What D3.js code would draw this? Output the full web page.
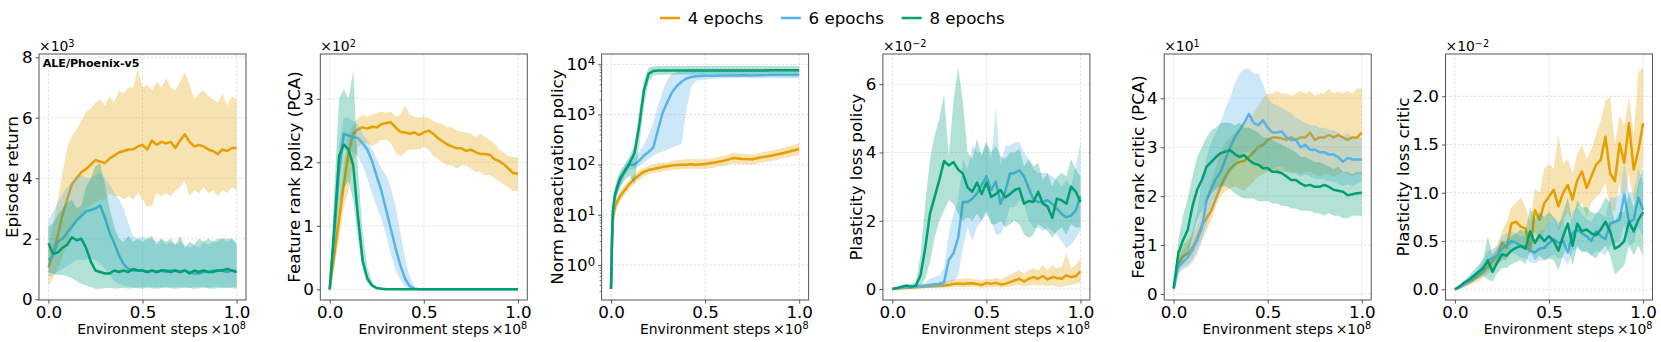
<!DOCTYPE html>
<html>
<head>
<meta charset="utf-8">
<script src="https://cdn.jsdelivr.net/npm/d3@7"></script>
<style>
  body { margin: 0; background: #fff; }
  text { font-family: "DejaVu Sans", sans-serif; }
</style>
</head>
<body>
<svg id="chart" width="1661" height="342"></svg>
<script>
// ---- data (in the units shown on each axis) ----
const seriesNames = ["4 epochs", "6 epochs", "8 epochs"];
const seriesColors = ["#E69F00", "#56B4E9", "#009E73"];
const xTickValues = [0, 0.5, 1];

const stepsGrid = [0,0.025,0.05,0.075,0.1,0.125,0.15,0.175,0.2,0.225,0.25,0.275,0.3,0.325,0.35,0.375,0.4,0.425,0.45,0.475,0.5,0.525,0.55,0.575,0.6,0.625,0.65,0.675,0.7,0.725,0.75,0.775,0.8,0.825,0.85,0.875,0.9,0.925,0.95,0.975,1];
const stepsLog = [0,0.005,0.01,0.02,0.035,0.05,0.075,0.1,0.125,0.15,0.175,0.2,0.225,0.25,0.275,0.3,0.325,0.35,0.375,0.4,0.425,0.45,0.5,0.55,0.6,0.65,0.7,0.75,0.8,0.85,0.9,0.95,1];

// Episode return (x10^3)
const ret4Mean = [1.05,1.5,2.1,2.8,3.3,3.8,4.0,4.2,4.3,4.45,4.6,4.55,4.5,4.65,4.75,4.85,4.9,4.95,4.95,5.05,5.1,4.95,5.25,5.1,5.2,5.15,5.2,5.0,5.25,5.45,5.2,5.05,5.1,5.05,4.95,4.9,4.8,4.95,4.9,5.0,5.0];
const ret4Hi = [1.6,2.5,3.3,4.2,5.0,5.4,5.6,5.9,6.2,6.3,6.5,6.6,6.4,6.7,6.5,6.9,6.8,7.0,7.0,7.6,7.0,7.1,6.9,7.2,7.0,7.3,7.0,6.9,7.2,7.5,7.1,6.6,6.8,6.9,6.7,6.6,6.5,6.8,6.4,6.7,6.6];
const ret4Lo = [0.45,0.7,1.0,1.4,1.9,2.3,2.6,2.8,3.0,3.1,3.2,3.3,3.3,3.5,3.4,3.4,3.3,3.4,3.3,3.5,3.3,3.05,3.1,3.5,3.4,3.5,3.4,3.6,3.7,3.9,3.4,3.6,3.5,3.7,3.5,3.6,3.4,3.6,3.5,3.7,3.6];
const ret6Mean = [1.3,1.45,1.9,2.0,2.2,2.4,2.6,2.75,2.9,2.95,3.0,3.1,2.7,2.2,1.85,1.45,1.15,1.0,0.95,0.95,0.95,0.9,0.95,0.9,0.95,0.9,0.95,0.95,0.9,0.95,0.9,0.85,0.85,0.9,0.9,0.95,0.95,0.95,0.9,0.95,0.9];
const ret6Hi = [2.6,2.9,3.2,3.5,3.7,3.9,4.1,4.1,4.0,4.0,4.1,4.2,4.0,3.8,3.5,3.3,3.0,2.5,2.1,2.0,2.1,2.0,2.0,1.9,2.0,1.8,1.9,1.8,1.9,1.8,1.7,1.8,1.7,1.9,1.8,1.9,1.9,2.0,1.9,2.0,1.9];
const ret6Lo = [0.75,0.8,0.9,1.0,1.1,1.2,1.3,1.3,1.3,1.35,1.3,1.2,1.0,0.8,0.6,0.5,0.45,0.42,0.4,0.38,0.4,0.42,0.4,0.38,0.4,0.41,0.39,0.4,0.42,0.4,0.38,0.4,0.41,0.4,0.39,0.4,0.42,0.4,0.38,0.4,0.4];
const ret8Mean = [1.85,1.5,1.55,1.7,1.8,2.05,1.95,2.0,1.7,1.25,0.95,0.9,0.85,0.85,0.95,0.9,0.95,0.9,1.0,0.95,0.95,0.9,0.95,0.9,0.95,0.95,0.9,0.95,0.9,0.95,0.85,0.95,0.9,0.95,0.9,0.9,0.95,0.95,1.0,0.95,0.9];
const ret8Hi = [2.4,2.5,2.8,3.0,3.2,3.3,3.0,3.1,3.7,4.0,4.4,4.5,3.8,3.0,2.4,2.0,1.9,2.1,1.9,2.0,1.9,2.0,2.1,1.8,2.0,1.9,2.0,1.8,2.1,1.7,1.9,1.8,2.0,1.9,2.0,1.9,2.0,2.0,2.0,2.0,1.8];
const ret8Lo = [0.9,0.85,0.8,0.8,0.75,0.7,0.6,0.5,0.45,0.4,0.35,0.35,0.36,0.38,0.35,0.36,0.38,0.35,0.37,0.36,0.35,0.38,0.36,0.35,0.37,0.38,0.36,0.35,0.36,0.38,0.37,0.35,0.36,0.38,0.36,0.35,0.37,0.36,0.38,0.36,0.35];

// Feature rank policy (PCA) (x10^2)
const rank4Mean = [0,0.55,1.1,1.65,2.15,2.45,2.52,2.55,2.53,2.56,2.55,2.6,2.62,2.63,2.55,2.48,2.47,2.45,2.47,2.43,2.47,2.5,2.45,2.38,2.33,2.28,2.25,2.22,2.22,2.18,2.2,2.16,2.13,2.13,2.12,2.05,2.02,1.97,1.9,1.83,1.82];
const rank4Hi = [0,0.7,1.4,2.0,2.45,2.6,2.7,2.75,2.72,2.75,2.78,2.8,2.78,2.8,2.72,2.75,2.9,2.75,2.72,2.7,2.72,2.7,2.65,2.62,2.6,2.55,2.55,2.5,2.48,2.47,2.45,2.4,2.45,2.4,2.35,2.3,2.2,2.15,2.1,2.08,2.08];
const rank4Lo = [0,0.35,0.8,1.3,1.55,2.0,2.25,2.3,2.3,2.25,2.3,2.35,2.35,2.3,2.15,2.1,2.15,2.2,2.2,2.2,2.25,2.2,2.1,2.05,2.0,1.95,1.95,1.9,1.95,1.95,1.9,1.85,1.85,1.8,1.8,1.75,1.7,1.65,1.6,1.55,1.55];
const rank6Mean = [0,0.9,1.9,2.45,2.42,2.4,2.38,2.3,2.2,2.02,1.78,1.55,1.25,0.95,0.65,0.38,0.17,0.05,0.01,0,0,0,0,0,0,0,0,0,0,0,0,0,0,0,0,0,0,0,0,0,0];
const rank6Hi = [0,1.1,2.3,2.7,2.7,2.65,2.6,2.45,2.35,2.2,2.05,1.9,1.8,1.6,1.3,0.9,0.5,0.2,0.05,0.01,0,0,0,0,0,0,0,0,0,0,0,0,0,0,0,0,0,0,0,0,0];
const rank6Lo = [0,0.7,1.6,2.2,2.2,2.15,2.1,1.95,1.75,1.5,1.3,1.1,0.85,0.55,0.3,0.15,0.05,0.01,0,0,0,0,0,0,0,0,0,0,0,0,0,0,0,0,0,0,0,0,0,0,0];
const rank8Mean = [0,1.0,2.1,2.28,2.2,1.95,1.15,0.45,0.17,0.06,0.02,0.01,0,0,0,0,0,0,0,0,0,0,0,0,0,0,0,0,0,0,0,0,0,0,0,0,0,0,0,0,0];
const rank8Hi = [0,1.6,3.0,3.15,3.0,3.45,1.9,0.9,0.35,0.12,0.04,0.01,0,0,0,0,0,0,0,0,0,0,0,0,0,0,0,0,0,0,0,0,0,0,0,0,0,0,0,0,0];
const rank8Lo = [0,0.5,1.3,1.6,1.7,1.4,0.8,0.3,0.1,0.03,0.01,0,0,0,0,0,0,0,0,0,0,0,0,0,0,0,0,0,0,0,0,0,0,0,0,0,0,0,0,0,0];

// Norm preactivation policy (log)
const norm4Mean = [0.33,2,8,14,19,24,32,42,52,62,72,78,82,86,90,93,96,98,100,100,102,100,103,110,120,135,130,128,140,150,165,183,205];
const norm4Hi = [0.4,3,10,17,23,30,40,52,65,78,88,95,100,105,110,112,118,122,125,128,130,128,128,135,150,170,165,160,175,190,210,235,265];
const norm4Lo = [0.28,1.5,6,10,14,19,25,33,42,50,58,64,68,70,73,76,78,80,82,82,84,82,82,88,95,105,102,100,110,118,128,143,155];
const norm6Mean = [0.33,3,10,22,35,50,80,100,100,120,150,180,220,500,1100,1800,2800,3700,4500,5200,5600,5800,5900,5950,6000,6000,6050,6000,6050,6100,6100,6100,6100];
const norm6Hi = [0.4,4,14,30,50,70,100,130,140,180,250,400,700,1500,3000,5000,6500,7000,7200,7300,7300,7300,7300,7300,7300,7400,7400,7400,7400,7500,7500,7500,7500];
const norm6Lo = [0.28,2,7,15,25,35,60,80,80,95,110,130,150,170,180,200,220,240,260,1200,3500,4700,5000,5200,5300,5300,5400,5300,5300,5400,5300,5300,5300];
const norm8Mean = [0.33,3,12,25,38,55,75,110,170,600,3000,6500,7400,7500,7500,7500,7500,7500,7500,7500,7500,7500,7500,7500,7500,7500,7550,7550,7550,7600,7600,7600,7600];
const norm8Hi = [0.4,4,16,35,55,75,105,150,250,1200,5000,8500,9200,9300,9300,9300,9300,9300,9300,9300,9300,9300,9300,9300,9300,9300,9300,9300,9300,9300,9300,9300,9200];
const norm8Lo = [0.28,2,9,18,28,38,50,60,40,250,1500,4500,6000,6200,6200,6300,6200,6300,6300,6300,6300,6300,6300,6300,6300,6300,6300,6300,6300,6300,6300,6300,6300];

// Plasticity loss policy (x10^-2)
const lossPol4Mean = [0,0.01,0.02,0.03,0.04,0.05,0.06,0.07,0.08,0.09,0.1,0.1,0.12,0.15,0.16,0.15,0.16,0.17,0.15,0.12,0.18,0.15,0.18,0.14,0.15,0.2,0.25,0.3,0.22,0.3,0.35,0.3,0.38,0.28,0.35,0.32,0.3,0.4,0.35,0.38,0.52];
const lossPol4Hi = [0,0.02,0.04,0.05,0.07,0.08,0.1,0.12,0.15,0.17,0.2,0.22,0.25,0.28,0.3,0.3,0.32,0.3,0.28,0.25,0.3,0.28,0.32,0.28,0.35,0.4,0.5,0.55,0.45,0.55,0.6,0.55,0.7,0.55,0.7,0.6,0.65,1.05,0.6,0.7,0.9];
const lossPol4Lo = [0,0.005,0.01,0.01,0.015,0.02,0.02,0.025,0.03,0.03,0.035,0.035,0.04,0.05,0.06,0.05,0.05,0.06,0.05,0.03,0.06,0.05,0.07,0.04,0.05,0.07,0.1,0.12,0.08,0.1,0.12,0.1,0.12,0.08,0.1,0.08,0.05,0.1,0.12,0.15,0.2];
const lossPol6Mean = [0,0.02,0.04,0.05,0.06,0.07,0.08,0.1,0.12,0.14,0.15,0.2,0.85,1.05,1.5,2.55,2.55,2.65,2.8,3.05,3.3,2.9,3.15,2.5,2.85,3.38,3.4,3.48,3.3,2.95,2.62,2.55,2.55,2.6,2.5,2.35,2.2,2.1,2.15,2.3,2.72];
const lossPol6Hi = [0,0.04,0.08,0.1,0.12,0.14,0.15,0.2,0.3,0.35,0.4,0.6,1.6,2.2,2.6,3.8,3.5,4.2,4.0,4.0,4.3,3.8,5.3,3.6,4.2,4.2,4.3,4.3,4.0,3.8,3.5,3.4,3.4,3.4,3.3,3.2,3.0,3.2,3.0,3.6,4.3];
const lossPol6Lo = [0,0.01,0.01,0.01,0.02,0.02,0.02,0.03,0.03,0.04,0.04,0.05,0.2,0.2,0.4,1.2,1.8,1.4,1.8,2.0,2.2,2.0,1.6,1.6,1.9,2.4,2.4,2.6,2.5,2.0,1.8,1.8,1.7,1.8,1.7,1.6,1.4,1.2,1.3,1.5,1.7];
const lossPol8Mean = [0,0.03,0.07,0.1,0.07,0.1,0.4,1.2,2.2,2.7,3.2,3.75,3.62,3.72,3.5,3.38,2.98,2.85,3.12,2.78,3.12,2.7,2.78,2.9,2.68,2.78,2.9,2.95,2.5,2.58,2.55,2.85,2.5,2.42,2.08,2.65,2.6,2.5,3.0,2.85,2.55];
const lossPol8Hi = [0,0.05,0.1,0.15,0.15,0.2,1.0,2.5,3.8,4.5,5.0,5.7,3.9,5.5,6.5,5.5,4.0,3.8,4.4,3.9,4.3,4.0,4.2,3.9,3.8,4.0,4.0,4.1,3.6,3.8,3.6,3.7,3.2,3.4,3.0,3.3,3.4,3.3,3.8,3.5,3.3];
const lossPol8Lo = [0,0.01,0.03,0.05,0.03,0.04,0.1,0.3,0.8,1.5,2.0,2.3,2.6,2.5,2.2,2.0,2.1,2.0,2.2,2.0,2.3,1.9,1.9,2.0,1.8,1.9,2.0,1.9,1.6,1.5,1.6,1.9,1.8,1.7,1.5,1.7,1.8,1.6,1.9,1.8,1.8];

// Feature rank critic (PCA) (x10^1)
const rankCr4Mean = [0.1,0.6,0.78,0.82,0.95,1.15,1.4,1.55,1.7,1.95,2.2,2.4,2.55,2.65,2.7,2.72,2.8,2.9,3.0,3.05,3.15,3.2,3.2,3.18,3.15,3.2,3.15,3.2,3.2,3.3,3.15,3.2,3.2,3.25,3.2,3.25,3.2,3.15,3.2,3.2,3.3];
const rankCr4Hi = [0.15,0.8,1.0,1.1,1.2,1.4,1.7,2.0,2.3,2.6,2.9,3.1,3.2,3.3,3.4,3.5,3.6,3.7,3.85,4.0,4.1,4.1,4.15,4.1,4.1,4.05,4.1,4.15,4.1,4.15,4.05,4.1,4.1,4.2,4.1,4.15,4.1,4.15,4.1,4.2,4.2];
const rankCr4Lo = [0.05,0.45,0.55,0.6,0.7,0.9,1.1,1.3,1.5,1.8,2.0,2.1,2.15,2.2,2.15,2.1,2.2,2.3,2.4,2.45,2.5,2.5,2.45,2.5,2.5,2.45,2.5,2.45,2.5,2.5,2.45,2.4,2.45,2.45,2.4,2.45,2.5,2.45,2.4,2.45,2.45];
const rankCr6Mean = [0.1,0.55,0.65,0.75,0.9,1.1,1.35,1.9,2.15,2.35,2.5,2.75,3.0,3.2,3.35,3.5,3.68,3.5,3.45,3.55,3.4,3.3,3.3,3.32,3.2,3.15,3.15,3.0,3.05,2.95,2.95,2.9,2.9,2.85,2.85,2.8,2.7,2.78,2.75,2.75,2.75];
const rankCr6Hi = [0.15,0.7,0.9,1.0,1.3,1.7,2.3,2.8,3.1,3.3,3.5,3.8,4.0,4.3,4.5,4.6,4.6,4.5,4.5,4.3,4.0,3.9,3.85,3.8,3.75,3.7,3.6,3.55,3.5,3.45,3.45,3.4,3.4,3.35,3.35,3.3,3.2,3.3,3.2,3.2,3.2];
const rankCr6Lo = [0.05,0.4,0.5,0.55,0.65,0.8,1.1,1.4,1.7,1.9,2.1,2.3,2.5,2.6,2.8,2.9,2.9,2.7,2.6,2.6,2.6,2.55,2.6,2.6,2.5,2.5,2.45,2.4,2.45,2.4,2.35,2.35,2.35,2.3,2.3,2.25,2.2,2.25,2.2,2.25,2.3];
const rankCr8Mean = [0.12,0.83,1.1,1.31,1.79,2.13,2.33,2.6,2.7,2.8,2.88,2.91,2.94,2.86,2.8,2.84,2.74,2.67,2.64,2.57,2.57,2.5,2.5,2.47,2.4,2.33,2.33,2.26,2.21,2.23,2.19,2.19,2.23,2.19,2.13,2.11,2.09,2.02,2.04,2.06,2.07];
const rankCr8Hi = [0.15,1.1,1.6,1.95,2.4,2.8,3.0,3.2,3.35,3.4,3.5,3.5,3.5,3.45,3.5,3.4,3.4,3.35,3.3,3.2,3.2,3.15,3.1,3.05,3.0,2.95,2.9,2.8,2.8,2.75,2.7,2.7,2.65,2.6,2.55,2.6,2.5,2.5,2.45,2.5,2.5];
const rankCr8Lo = [0.08,0.55,0.7,0.8,1.15,1.5,1.7,1.9,2.05,2.15,2.2,2.2,2.15,2.05,2.0,1.95,1.95,1.95,1.9,1.9,1.9,1.85,1.85,1.8,1.8,1.75,1.75,1.7,1.7,1.7,1.65,1.65,1.6,1.65,1.6,1.6,1.55,1.55,1.6,1.6,1.6];

// Plasticity loss critic (x10^-2)
const lossCr4Mean = [0,0.02,0.045,0.07,0.1,0.14,0.18,0.23,0.29,0.34,0.48,0.43,0.68,0.7,0.65,0.63,0.41,0.82,0.72,0.89,0.96,1.03,0.86,1.0,1.08,0.93,1.13,1.22,1.05,1.17,1.29,1.34,1.58,1.2,1.12,1.51,1.31,1.72,1.24,1.44,1.72];
const lossCr4Hi = [0,0.03,0.06,0.1,0.14,0.2,0.25,0.3,0.38,0.45,0.6,0.7,0.85,0.9,0.95,0.85,0.7,1.05,1.0,1.25,1.3,1.25,1.6,1.3,1.35,1.2,1.4,1.5,1.35,1.45,1.6,1.75,1.95,2.0,1.5,1.8,1.7,2.0,1.6,2.25,2.3];
const lossCr4Lo = [0,0.01,0.02,0.04,0.06,0.08,0.12,0.16,0.2,0.25,0.3,0.3,0.45,0.5,0.45,0.42,0.35,0.6,0.5,0.6,0.7,0.75,0.6,0.7,0.8,0.7,0.85,0.9,0.75,0.9,0.95,1.0,1.1,0.85,0.8,1.1,0.9,1.2,0.9,1.0,1.3];
const lossCr6Mean = [0,0.02,0.05,0.08,0.12,0.16,0.2,0.3,0.32,0.35,0.42,0.45,0.5,0.48,0.45,0.44,0.4,0.38,0.42,0.43,0.48,0.52,0.48,0.5,0.38,0.58,0.62,0.58,0.55,0.5,0.6,0.55,0.52,0.68,0.7,0.72,0.98,0.7,0.72,0.95,0.82];
const lossCr6Hi = [0,0.03,0.07,0.1,0.15,0.22,0.3,0.4,0.42,0.45,0.55,0.58,0.6,0.58,0.55,0.55,0.55,0.5,0.6,0.62,0.7,0.75,0.7,0.72,0.55,0.8,0.85,0.78,0.72,0.7,0.8,0.78,0.75,0.95,0.95,0.98,1.3,1.0,1.0,1.25,1.1];
const lossCr6Lo = [0,0.01,0.03,0.06,0.09,0.12,0.15,0.2,0.22,0.25,0.3,0.32,0.38,0.36,0.33,0.32,0.28,0.27,0.3,0.3,0.33,0.36,0.32,0.33,0.25,0.4,0.42,0.4,0.38,0.35,0.4,0.38,0.35,0.45,0.48,0.5,0.68,0.45,0.48,0.65,0.55];
const lossCr8Mean = [0,0.03,0.07,0.1,0.14,0.18,0.22,0.3,0.18,0.28,0.36,0.35,0.4,0.43,0.45,0.42,0.6,0.48,0.56,0.5,0.55,0.5,0.4,0.55,0.68,0.45,0.68,0.6,0.62,0.58,0.56,0.62,0.7,0.6,0.42,0.45,0.5,0.7,0.6,0.72,0.8];
const lossCr8Hi = [0,0.04,0.09,0.14,0.2,0.25,0.32,0.55,0.35,0.42,0.5,0.5,0.55,0.58,0.62,0.6,0.85,0.72,0.8,0.75,0.8,0.75,0.65,0.8,0.95,0.7,0.92,0.85,0.85,0.8,0.78,0.85,0.95,0.9,0.7,0.8,0.8,1.0,0.85,1.1,1.25];
const lossCr8Lo = [0,0.02,0.05,0.07,0.09,0.11,0.14,0.1,0.08,0.17,0.22,0.22,0.26,0.28,0.3,0.26,0.4,0.3,0.35,0.3,0.32,0.3,0.2,0.35,0.45,0.25,0.45,0.38,0.4,0.35,0.32,0.4,0.45,0.35,0.15,0.2,0.25,0.45,0.35,0.45,0.35];

// ---- panels ----
const panels = [
  { label: "Episode return", steps: stepsGrid, note: "ALE/Phoenix-v5", exp: "3",
    yDomain: [-0.026, 8.106], yTicks: [0, 2, 4, 6, 8], fmt: d3.format("d"),
    series: [[ret4Mean, ret4Lo, ret4Hi], [ret6Mean, ret6Lo, ret6Hi], [ret8Mean, ret8Lo, ret8Hi]] },
  { label: "Feature rank policy (PCA)", steps: stepsGrid, exp: "2",
    yDomain: [-0.168, 3.705], yTicks: [0, 1, 2, 3], fmt: d3.format("d"),
    series: [[rank4Mean, rank4Lo, rank4Hi], [rank6Mean, rank6Lo, rank6Hi], [rank8Mean, rank8Lo, rank8Hi]] },
  { label: "Norm preactivation policy", steps: stepsLog, log: true,
    yDomain: [0.2, 16070], yTicks: [1, 10, 100, 1000, 10000],
    series: [[norm4Mean, norm4Lo, norm4Hi], [norm6Mean, norm6Lo, norm6Hi], [norm8Mean, norm8Lo, norm8Hi]] },
  { label: "Plasticity loss policy", steps: stepsGrid, exp: "\u22122",
    yDomain: [-0.322, 6.886], yTicks: [0, 2, 4, 6], fmt: d3.format("d"),
    series: [[lossPol4Mean, lossPol4Lo, lossPol4Hi], [lossPol6Mean, lossPol6Lo, lossPol6Hi], [lossPol8Mean, lossPol8Lo, lossPol8Hi]] },
  { label: "Feature rank critic (PCA)", steps: stepsGrid, exp: "1",
    yDomain: [-0.123, 4.906], yTicks: [0, 1, 2, 3, 4], fmt: d3.format("d"),
    series: [[rankCr4Mean, rankCr4Lo, rankCr4Hi], [rankCr6Mean, rankCr6Lo, rankCr6Hi], [rankCr8Mean, rankCr8Lo, rankCr8Hi]] },
  { label: "Plasticity loss critic", steps: stepsGrid, exp: "\u22122",
    yDomain: [-0.111, 2.438], yTicks: [0, 0.5, 1, 1.5, 2], fmt: d3.format(".1f"),
    series: [[lossCr4Mean, lossCr4Lo, lossCr4Hi], [lossCr6Mean, lossCr6Lo, lossCr6Hi], [lossCr8Mean, lossCr8Lo, lossCr8Hi]] }
];

// ---- layout ----
const axLeft0 = 39, axStep = 281.3, axW = 207, axTop = 54, axBottom = 300;
const tickFont = 16.7, labelFont = 16.7, xLabelFont = 13.9, spine = "#555";

const svg = d3.select("#chart");

panels.forEach(function(p, i) {
  const left = axLeft0 + i * axStep;
  const x = d3.scaleLinear().domain([-0.05, 1.05]).range([left, left + axW]);
  const y = (p.log ? d3.scaleLog() : d3.scaleLinear()).domain(p.yDomain).range([axBottom, axTop]);
  const g = svg.append("g");

  g.append("clipPath").attr("id", "clip" + i)
    .append("rect").attr("x", left).attr("y", axTop).attr("width", axW).attr("height", axBottom - axTop);

  // grid
  const grid = g.append("g").attr("stroke", "#dcdcdc").attr("stroke-width", 0.8).attr("stroke-dasharray", "2.5,1.5");
  grid.selectAll(".gy").data(p.yTicks).join("line")
    .attr("x1", left).attr("x2", left + axW)
    .attr("y1", function(d) { return y(d); }).attr("y2", function(d) { return y(d); });
  grid.selectAll(".gx").data(xTickValues).join("line")
    .attr("y1", axTop).attr("y2", axBottom)
    .attr("x1", function(d) { return x(d); }).attr("x2", function(d) { return x(d); });

  // bands and mean lines
  const plot = g.append("g").attr("clip-path", "url(#clip" + i + ")");
  p.series.forEach(function(s, k) {
    const mean = s[0], lo = s[1], hi = s[2];
    const area = d3.area()
      .x(function(d, j) { return x(p.steps[j]); })
      .y0(function(d, j) { return y(lo[j]); })
      .y1(function(d, j) { return y(hi[j]); });
    const line = d3.line()
      .x(function(d, j) { return x(p.steps[j]); })
      .y(function(d) { return y(d); });
    plot.append("path").datum(mean).attr("d", area)
      .attr("fill", seriesColors[k]).attr("fill-opacity", 0.3);
    plot.append("path").datum(mean).attr("d", line)
      .attr("fill", "none").attr("stroke", seriesColors[k])
      .attr("stroke-width", 2.5).attr("stroke-linejoin", "round");
  });

  // frame
  g.append("rect").attr("x", left).attr("y", axTop).attr("width", axW).attr("height", axBottom - axTop)
    .attr("fill", "none").attr("stroke", spine).attr("stroke-width", 1);

  // y axis
  const yAxis = d3.axisLeft(y).tickValues(p.yTicks).tickSize(3.5).tickPadding(3)
    .tickFormat(p.log ? function() { return ""; } : p.fmt);
  const yg = g.append("g").attr("transform", "translate(" + left + ",0)").call(yAxis);
  yg.select(".domain").remove();
  yg.selectAll(".tick line").attr("stroke", spine);
  yg.selectAll("text").attr("font-size", tickFont).attr("fill", "#000").attr("font-family", "DejaVu Sans");
  if (p.log) {
    yg.selectAll(".tick text").each(function(d) {
      const t = d3.select(this);
      t.text("10");
      t.append("tspan").attr("dy", "-0.45em").attr("font-size", "0.7em").text(Math.round(Math.log10(d)));
    });
    const minors = [];
    [0.1, 1, 10, 100, 1000].forEach(function(b) {
      [2, 3, 4, 5, 6, 7, 8, 9].forEach(function(m) {
        const v = b * m;
        if (v > p.yDomain[0] && v < p.yDomain[1]) minors.push(v);
      });
    });
    const mg = g.append("g").attr("transform", "translate(" + left + ",0)")
      .call(d3.axisLeft(y).tickValues(minors).tickSize(2).tickFormat(""));
    mg.select(".domain").remove();
    mg.selectAll(".tick line").attr("stroke", spine).attr("stroke-width", 0.8);
  }

  // x axis
  const xg = g.append("g").attr("transform", "translate(0," + axBottom + ")")
    .call(d3.axisBottom(x).tickValues(xTickValues).tickFormat(d3.format(".1f")).tickSize(3.5).tickPadding(3));
  xg.select(".domain").remove();
  xg.selectAll(".tick line").attr("stroke", spine);
  xg.selectAll("text").attr("font-size", tickFont).attr("fill", "#000").attr("font-family", "DejaVu Sans");

  // y label, placed just left of the tick labels (bbox is local to the axis group)
  const bb = yg.node().getBBox();
  g.append("text")
    .attr("transform", "translate(" + (left + bb.x - 3.5) + "," + ((axTop + axBottom) / 2) + ") rotate(-90)")
    .attr("text-anchor", "middle").attr("font-size", labelFont).attr("fill", "#000")
    .text(p.label);

  // x label + offset
  g.append("text").attr("x", left + axW / 2).attr("y", 333.5)
    .attr("text-anchor", "middle").attr("font-size", xLabelFont).attr("fill", "#000")
    .text("Environment steps");
  const xo = g.append("text").attr("x", left + axW).attr("y", 333.5)
    .attr("text-anchor", "end").attr("font-size", xLabelFont).attr("fill", "#000").text("\u00d710");
  xo.append("tspan").attr("dy", "-0.45em").attr("font-size", "0.7em").text("8");

  // y offset text
  if (p.exp) {
    const yo = g.append("text").attr("x", left).attr("y", 51)
      .attr("font-size", xLabelFont).attr("fill", "#000").text("\u00d710");
    yo.append("tspan").attr("dy", "-0.45em").attr("font-size", "0.7em").text(p.exp);
  }

  if (p.note) {
    g.append("text").attr("x", left + 3.7).attr("y", 66.7)
      .attr("font-size", 11.1).attr("font-weight", "bold").attr("fill", "#000")
      .text(p.note);
  }
});

// ---- legend ----
let lx = 660;
const legend = svg.append("g");
seriesNames.forEach(function(name, k) {
  legend.append("line").attr("x1", lx).attr("x2", lx + 20).attr("y1", 18).attr("y2", 18)
    .attr("stroke", seriesColors[k]).attr("stroke-width", 2.5);
  const t = legend.append("text").attr("x", lx + 27.7).attr("y", 24)
    .attr("font-size", labelFont).attr("fill", "#000").text(name);
  lx += 27.7 + t.node().getComputedTextLength() + 17.7;
});
</script>
</body>
</html>
